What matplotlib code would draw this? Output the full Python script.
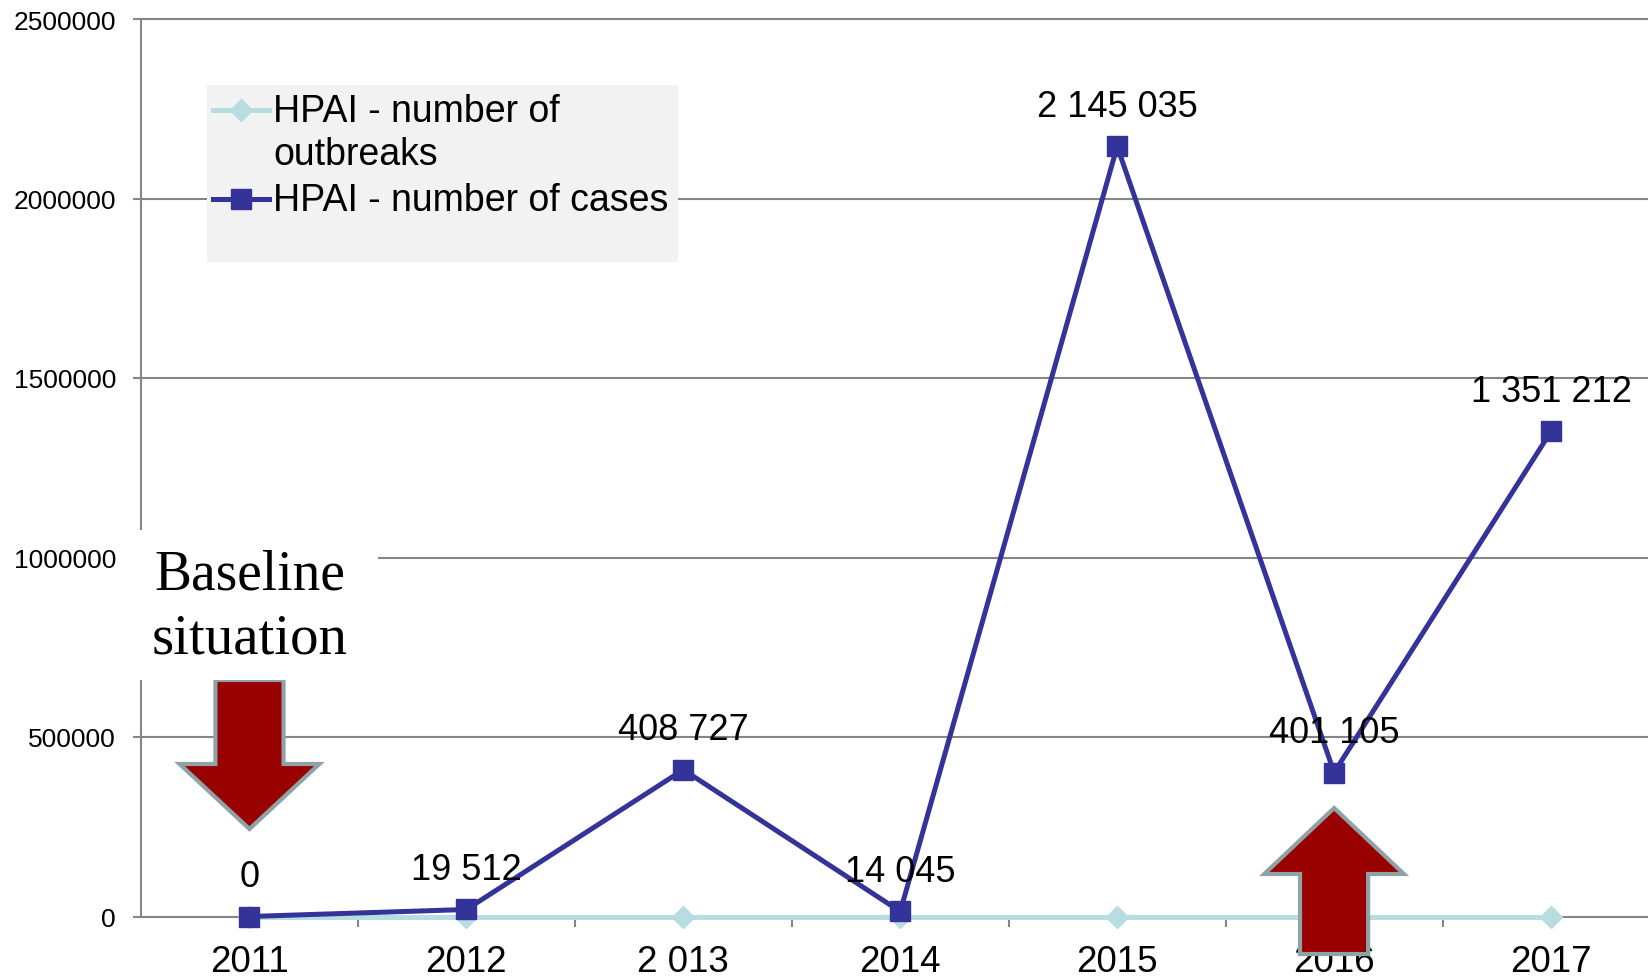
import matplotlib
matplotlib.use("Agg")
import matplotlib.pyplot as plt
from matplotlib.patches import Rectangle, Polygon
from matplotlib.lines import Line2D

years = ["2011", "2012", "2 013", "2014", "2015", "2016", "2017"]
cases = [0, 19512, 408727, 14045, 2145035, 401105, 1351212]
case_labels = ["0", "19 512", "408 727", "14 045", "2 145 035", "401 105", "1 351 212"]
outbreaks = [0, 0, 0, 0, 0, 0, 0]
series_names = ["HPAI - number of\noutbreaks", "HPAI - number of cases"]

W, H = 1648, 978
plt.rcParams['font.family'] = ['Liberation Sans', 'DejaVu Sans']
fig = plt.figure(figsize=(W / 100, H / 100), dpi=100)

def fx(px):
    return px / W

def fy(py):
    return 1 - py / H

ax_left, ax_top, ax_bot = 141, 20, 917.5
ax = fig.add_axes([fx(ax_left), fy(ax_bot), 1 - fx(ax_left), (ax_bot - ax_top) / H])
ax.set_xlim(-0.5, 6.447)
ax.set_ylim(0, 2500000)

grid_c = '#868686'
ax.set_yticks([0, 500000, 1000000, 1500000, 2000000, 2500000])
ax.set_yticklabels(["0", "500000", "1000000", "1500000", "2000000", "2500000"])
ax.yaxis.grid(True, color=grid_c, lw=1.5, zorder=0)
ax.set_axisbelow(True)
ax.spines['right'].set_visible(False)
for s in ['left', 'bottom', 'top']:
    ax.spines[s].set_color(grid_c)
    ax.spines[s].set_linewidth(1.5)
ax.tick_params(axis='y', length=6, width=1.5, color=grid_c, pad=12, labelsize=19)

x = list(range(len(years)))
ax.set_xticks(x)
ax.set_xticklabels(years)
ax.set_xticks([i + 0.5 for i in range(len(years) - 1)], minor=True)
ax.tick_params(axis='x', which='major', length=0, pad=20, labelsize=26.5)
ax.tick_params(axis='x', which='minor', length=7, width=1.5, color=grid_c)

c_out = '#b7dde0'
c_case = '#333399'
ax.plot(x, outbreaks, color=c_out, lw=3.6, marker='D', markersize=11, zorder=3, clip_on=False)
ax.plot(x, cases, color=c_case, lw=3.6, marker='s', markersize=14, zorder=4, clip_on=False)

for xi, v, lab in zip(x, cases, case_labels):
    ax.annotate(lab, (xi, v), xytext=(0, 29), textcoords='offset points',
                ha='center', va='center', fontsize=26, zorder=5)

# Arrows
def arrow(xc, y_tail, y_base, y_tip, shaft_half=0.157, head_half=0.322):
    pts = [(xc - shaft_half, y_tail), (xc - shaft_half, y_base), (xc - head_half, y_base),
           (xc, y_tip), (xc + head_half, y_base), (xc + shaft_half, y_base),
           (xc + shaft_half, y_tail)]
    p = Polygon(pts, closed=True, facecolor='#990000', edgecolor='#8da3a6', lw=3,
                zorder=6, clip_on=False)
    ax.add_patch(p)

arrow(0, 658800, 424800, 243700)
arrow(5, -104500, 118400, 302200)

# Baseline box
fig.add_artist(Rectangle((fx(125), fy(681)), fx(378) - fx(125), fy(531) - fy(681),
                         transform=fig.transFigure, facecolor='white', edgecolor='none', zorder=1))
fig.text(fx(250), fy(576), "Baseline", ha='center', va='center',
         fontsize=40, family=['Liberation Serif', 'DejaVu Serif'], zorder=3)
fig.text(fx(250), fy(640), "situation", ha='center', va='center',
         fontsize=41, family=['Liberation Serif', 'DejaVu Serif'], zorder=3)

# Legend
fig.add_artist(Rectangle((fx(207), fy(263)), fx(678) - fx(207), fy(86) - fy(263),
                         transform=fig.transFigure, facecolor='#f2f2f2', edgecolor='none', zorder=2))
for (yc, col, mk, ms) in [(111, c_out, 'D', 11), (200, c_case, 's', 14)]:
    fig.add_artist(Line2D([fx(213), fx(269)], [fy(yc), fy(yc)], transform=fig.transFigure,
                          color=col, lw=3.6, zorder=3))
    fig.add_artist(Line2D([fx(241)], [fy(yc)], transform=fig.transFigure, color=col,
                          marker=mk, markersize=ms, lw=0, zorder=3))
name1a, name1b = series_names[0].split("\n")
fig.text(fx(273), fy(112), name1a, ha='left', va='center', fontsize=27, zorder=4)
fig.text(fx(273), fy(155), name1b, ha='left', va='center', fontsize=27, zorder=4)
fig.text(fx(273), fy(201), series_names[1], ha='left', va='center', fontsize=27, zorder=4)

fig.savefig("out.png", dpi=100)
